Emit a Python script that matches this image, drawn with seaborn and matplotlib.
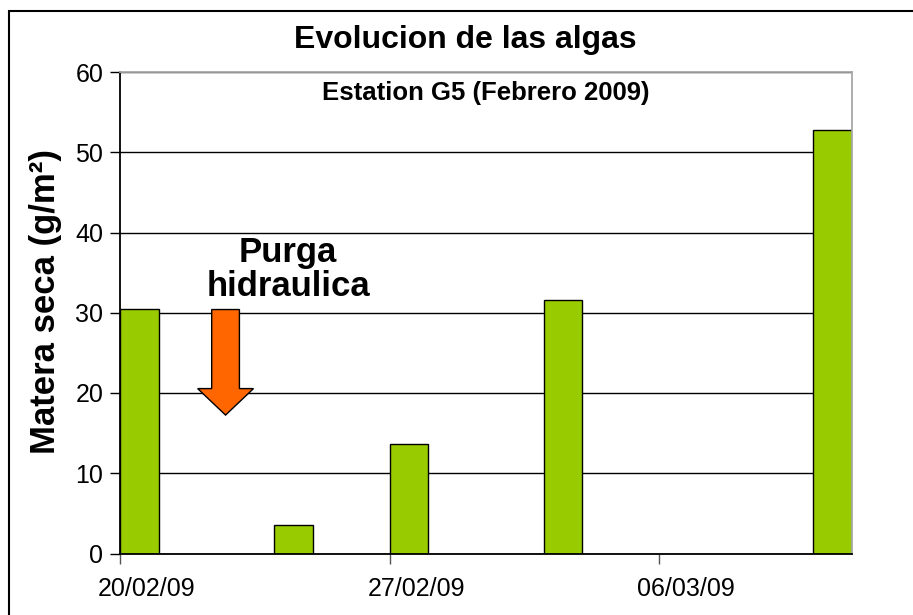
import pandas as pd
import seaborn as sns
import matplotlib.pyplot as plt
from matplotlib.patches import Rectangle

# datos
fechas = ["20/02/09", "24/02/09", "27/02/09", "03/03/09", "10/03/09"]
materia_seca = [30.5, 3.5, 13.6, 31.6, 52.8]
etiquetas_x = ["20/02/09", "27/02/09", "06/03/09"]

dias = pd.to_datetime(pd.Series(fechas), format="%d/%m/%y")
inicio = dias.iloc[0]
offset = (dias - inicio).dt.days.tolist()
offset_etiquetas = [(pd.to_datetime(e, format="%d/%m/%y") - inicio).days for e in etiquetas_x]
n_dias = offset[-1] + 1

sns.set_style("white")
plt.rcParams["font.family"] = ["Liberation Sans", "DejaVu Sans"]
plt.rcParams["text.color"] = "black"
plt.rcParams["axes.labelcolor"] = "black"
plt.rcParams["xtick.color"] = "black"
plt.rcParams["ytick.color"] = "black"

fig = plt.figure(figsize=(9.13, 6.15), dpi=100)
ax = fig.add_axes([120 / 913, 1 - 553.5 / 615, 732 / 913, 481.5 / 615])

sns.barplot(x=offset, y=materia_seca, native_scale=True, width=1 / 3,
            color="#99CC00", edgecolor="black", linewidth=1.0,
            errorbar=None, saturation=1, ax=ax)

ax.set_xlim(-0.5, n_dias - 0.5)
ax.set_ylim(0, 60)
ax.set_yticks(range(0, 61, 10))
ax.set_axisbelow(True)
ax.yaxis.grid(True, color="black", linewidth=1.0)
ax.xaxis.grid(False)

# marcas en los bordes de cada semana, etiquetas centradas en el dia
ax.set_xticks([o - 0.5 for o in offset_etiquetas])
ax.set_xticklabels([])
ax.set_xticks([o + 0.2 for o in offset_etiquetas], minor=True)
ax.set_xticklabels(etiquetas_x, minor=True)
ax.tick_params(axis="x", which="major", direction="out", length=7, width=1, color="#555555", bottom=True)
ax.tick_params(axis="x", which="minor", length=0, pad=17, labelsize=18)
ax.tick_params(axis="y", direction="out", length=7, width=1, color="black", left=True, pad=5, labelsize=18)

for s in ["left", "bottom"]:
    ax.spines[s].set_color("black")
    ax.spines[s].set_linewidth(1.3)
for s in ["top", "right"]:
    ax.spines[s].set_color("#A8A8A8")
    ax.spines[s].set_linewidth(1.3)

ax.set_xlabel("")
ax.set_ylabel("Matera seca (g/m²)", fontsize=25, fontweight="bold")
ax.yaxis.set_label_coords(-58 / 732, 0.524)

fig.text(465 / 913, 1 - 40 / 615, "Evolucion de las algas", ha="center", va="center",
         fontsize=23, fontweight="bold")
ax.text(0.50, 0.957, "Estation G5 (Febrero 2009)", transform=ax.transAxes,
        ha="center", va="center", fontsize=18.5, fontweight="bold")

# anotacion de la purga
ax.text(3.86, 35.4, "Purga\nhidraulica", ha="center", va="center",
        fontsize=25, fontweight="bold", linespacing=1.05)
ax.arrow(2.24, 30.4, 0, -13.15, width=0.72, head_width=1.45, head_length=3.3,
         length_includes_head=True, facecolor="#FF6600", edgecolor="black", linewidth=1)

fig.patches.append(Rectangle((9 / 913, -0.1), 1.2, 1 - 11 / 615 + 0.1,
                             transform=fig.transFigure, fill=False,
                             edgecolor="black", linewidth=1.5))

fig.savefig("out.png", dpi=100)
